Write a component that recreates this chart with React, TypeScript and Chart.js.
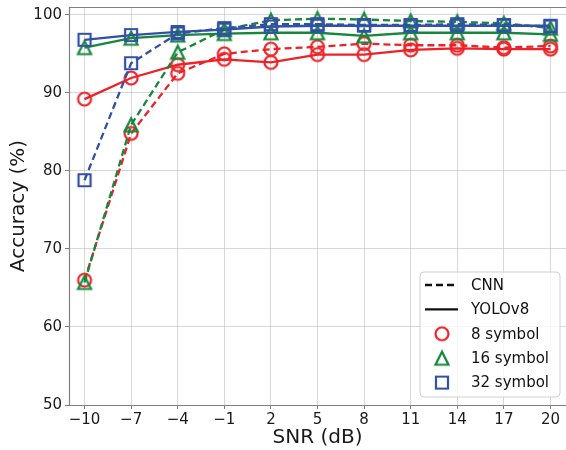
import React, { useEffect, useRef } from 'react';
import { Chart, registerables } from 'chart.js';

Chart.register(...registerables);

// ---------- data ----------
const SNR = [-10, -7, -4, -1, 2, 5, 8, 11, 14, 17, 20];
const X_TICKS = [-10, -7, -4, -1, 2, 5, 8, 11, 14, 17, 20];
const Y_TICKS = [50, 60, 70, 80, 90, 100];

const CNN_8 = [66.0, 84.8, 92.5, 95.0, 95.6, 95.9, 96.3, 96.1, 96.1, 95.8, 96.0];
const YOLO_8 = [89.2, 91.9, 93.6, 94.3, 93.9, 94.9, 94.9, 95.5, 95.7, 95.6, 95.6];
const CNN_16 = [65.7, 85.9, 95.2, 98.1, 99.3, 99.5, 99.4, 99.2, 99.1, 98.9, 98.3];
const YOLO_16 = [95.8, 97.0, 97.4, 97.6, 97.7, 97.7, 97.3, 97.7, 97.7, 97.7, 97.5];
const CNN_32 = [78.8, 93.8, 97.6, 98.3, 98.8, 98.8, 98.7, 98.7, 98.8, 98.7, 98.5];
const YOLO_32 = [96.8, 97.4, 97.8, 98.1, 98.5, 98.6, 98.6, 98.6, 98.6, 98.6, 98.6];

const LINE_LABELS = ['CNN', 'YOLOv8'];
const MARKER_LABELS = ['8 symbol', '16 symbol', '32 symbol'];

const RED = '#ec2227';
const GREEN = '#15873a';
const BLUE = '#3150a6';
const FONT = "'DejaVu Sans', 'Liberation Sans', sans-serif";

type Shape = 'circle' | 'triangle' | 'square';

function makeMarker(shape: Shape, color: string): HTMLCanvasElement {
  const c = document.createElement('canvas');
  c.width = 20;
  c.height = 20;
  const g = c.getContext('2d')!;
  g.strokeStyle = color;
  g.lineWidth = 2.2;
  g.lineJoin = 'miter';
  g.beginPath();
  if (shape === 'circle') {
    g.arc(10, 10, 6.5, 0, Math.PI * 2);
  } else if (shape === 'triangle') {
    g.moveTo(10, 3.5);
    g.lineTo(3.5, 16.5);
    g.lineTo(16.5, 16.5);
    g.closePath();
  } else {
    g.rect(4, 4, 12, 12);
  }
  g.stroke();
  return c;
}

function fmt(v: number): string {
  return v < 0 ? '\u2212' + Math.abs(v) : String(v);
}

export default function App() {
  const ref = useRef<HTMLCanvasElement | null>(null);

  useEffect(() => {
    if (!ref.current) return;
    const mRed = makeMarker('circle', RED);
    const mGreen = makeMarker('triangle', GREEN);
    const mBlue = makeMarker('square', BLUE);

    const toPts = (arr: number[]) => SNR.map((x, i) => ({ x, y: arr[i] }));

    const mk = (arr: number[], color: string, marker: HTMLCanvasElement, dashed: boolean, order: number) => ({
      data: toPts(arr),
      borderColor: color,
      backgroundColor: 'transparent',
      borderWidth: 2.3,
      borderDash: dashed ? [7, 4] : [],
      pointStyle: marker,
      pointRadius: 7,
      pointHoverRadius: 7,
      tension: 0,
      fill: false,
      order,
    });

    const framePlugin = {
      id: 'frame',
      afterDatasetsDraw(chart: any) {
        const { ctx, chartArea: a } = chart;
        ctx.save();
        ctx.strokeStyle = '#808080';
        ctx.lineWidth = 1.2;
        ctx.beginPath();
        ctx.moveTo(a.right, a.top + 0.5);
        ctx.lineTo(a.left + 0.5, a.top + 0.5);
        ctx.lineTo(a.left + 0.5, a.bottom + 0.5);
        ctx.lineTo(a.right, a.bottom + 0.5);
        ctx.stroke();
        ctx.restore();
      },
    };

    const legendPlugin = {
      id: 'customLegend',
      afterDraw(chart: any) {
        const { ctx, chartArea: a } = chart;
        const w = 140;
        const h = 125;
        const x0 = a.right - 6 - w;
        const y0 = a.bottom - 8 - h;
        ctx.save();
        ctx.beginPath();
        const r = 4;
        ctx.moveTo(x0 + r, y0);
        ctx.lineTo(x0 + w - r, y0);
        ctx.quadraticCurveTo(x0 + w, y0, x0 + w, y0 + r);
        ctx.lineTo(x0 + w, y0 + h - r);
        ctx.quadraticCurveTo(x0 + w, y0 + h, x0 + w - r, y0 + h);
        ctx.lineTo(x0 + r, y0 + h);
        ctx.quadraticCurveTo(x0, y0 + h, x0, y0 + h - r);
        ctx.lineTo(x0, y0 + r);
        ctx.quadraticCurveTo(x0, y0, x0 + r, y0);
        ctx.closePath();
        ctx.fillStyle = 'rgba(255,255,255,0.8)';
        ctx.fill();
        ctx.strokeStyle = '#d0d0d0';
        ctx.lineWidth = 1;
        ctx.stroke();

        ctx.font = `15px ${FONT}`;
        ctx.textBaseline = 'middle';
        ctx.textAlign = 'left';
        const rows = [...LINE_LABELS, ...MARKER_LABELS];
        const markers = [mRed, mGreen, mBlue];
        rows.forEach((label, i) => {
          const y = y0 + 13 + i * 24.4;
          if (i < 2) {
            ctx.beginPath();
            ctx.strokeStyle = '#111';
            ctx.lineWidth = 2.3;
            ctx.setLineDash(i === 0 ? [7, 4] : []);
            ctx.moveTo(x0 + 5, y);
            ctx.lineTo(x0 + 38, y);
            ctx.stroke();
            ctx.setLineDash([]);
          } else {
            ctx.drawImage(markers[i - 2], x0 + 22 - 10, y - 10);
          }
          ctx.fillStyle = '#111';
          ctx.fillText(label, x0 + 51, y + 1);
        });
        ctx.restore();
      },
    };

    const chart = new Chart(ref.current, {
      type: 'line',
      data: {
        datasets: [
          mk(YOLO_32, BLUE, mBlue, false, 0),
          mk(CNN_32, BLUE, mBlue, true, 1),
          mk(YOLO_16, GREEN, mGreen, false, 2),
          mk(CNN_16, GREEN, mGreen, true, 3),
          mk(YOLO_8, RED, mRed, false, 4),
          mk(CNN_8, RED, mRed, true, 5),
        ] as any,
      },
      options: {
        animation: false,
        responsive: false,
        maintainAspectRatio: false,
        events: [],
        layout: { autoPadding: false, padding: { top: 7, right: 0, left: 0, bottom: 0 } },
        plugins: {
          legend: { display: false },
          tooltip: { enabled: false },
        },
        scales: {
          x: {
            type: 'linear',
            min: -11,
            max: 21,
            afterBuildTicks: (s: any) => {
              s.ticks = X_TICKS.map((v) => ({ value: v }));
            },
            afterFit: (s: any) => {
              s.height = 45;
              s.paddingLeft = 0;
              s.paddingRight = 0;
            },
            ticks: {
              callback: (v: any) => fmt(Number(v)),
              font: { family: FONT, size: 15 },
              color: '#1a1a1a',
              padding: 2,
              maxRotation: 0,
              autoSkip: false,
            },
            grid: {
              color: 'rgba(176,176,176,0.5)',
              lineWidth: 1,
              tickColor: '#808080',
              tickLength: 4,
            },
            border: { display: false },
            title: {
              display: true,
              text: 'SNR (dB)',
              font: { family: FONT, size: 20 },
              color: '#1a1a1a',
              padding: { top: 0, bottom: 0 },
            },
          },
          y: {
            type: 'linear',
            min: 50,
            max: 101,
            afterBuildTicks: (s: any) => {
              s.ticks = Y_TICKS.map((v) => ({ value: v }));
            },
            afterFit: (s: any) => {
              s.width = 69;
              s.paddingTop = 0;
              s.paddingBottom = 0;
            },
            ticks: {
              callback: (v: any) => fmt(Number(v)),
              font: { family: FONT, size: 15 },
              color: '#1a1a1a',
              padding: 3,
            },
            grid: {
              color: 'rgba(176,176,176,0.5)',
              lineWidth: 1,
              tickColor: '#808080',
              tickLength: 4,
            },
            border: { display: false },
            title: {
              display: true,
              text: 'Accuracy (%)',
              font: { family: FONT, size: 20 },
              color: '#1a1a1a',
              padding: { top: 7, bottom: 0 },
            },
          },
        },
      },
      plugins: [framePlugin, legendPlugin],
    });

    return () => {
      chart.destroy();
    };
  }, []);

  return (
    <div style={{ position: 'absolute', left: 0, top: 0, width: 566, height: 450, background: '#fff' }}>
      <canvas ref={ref} width={566} height={450} style={{ width: 566, height: 450, display: 'block' }} />
    </div>
  );
}
